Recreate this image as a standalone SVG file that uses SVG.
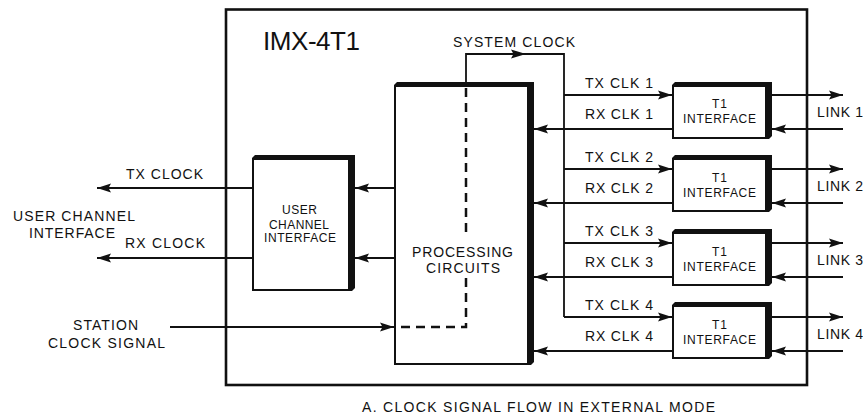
<svg xmlns="http://www.w3.org/2000/svg" width="863" height="416" viewBox="0 0 863 416">
<style>
text{font-family:"Liberation Sans",Arial,sans-serif;fill:#111}
.lbl{font-size:14px}
.sm{font-size:12px}
.ln{stroke:#111;stroke-width:1.8;fill:none}
.arr{marker-end:url(#ah)}
.dash{stroke:#111;stroke-width:2.5;fill:none;stroke-dasharray:9 6}
.bx{fill:#111}
.in{fill:#fff}
</style>
<defs>
<marker id="ah" markerUnits="userSpaceOnUse" markerWidth="15" markerHeight="10" refX="14" refY="5" orient="auto">
<path d="M0,0.5 L14,5 L0,9.5 L2.5,5 Z" fill="#111"/>
</marker>
</defs>
<rect width="863" height="416" fill="#fff"/>

<g id="frame">
<rect x="226" y="9.5" width="581" height="375.5" fill="none" stroke="#111" stroke-width="2.6"/>
<text x="263" y="50" font-size="26" textLength="97" lengthAdjust="spacing">IMX-4T1</text>
</g>

<g id="processing">
<path class="bx" d="M394,85 L397,82 L534,82 L534,362 L531,365 L394,365 Z"/>
<rect class="in" x="396" y="87" width="131" height="276"/>
<text class="lbl" x="412" y="257" textLength="101" lengthAdjust="spacing">PROCESSING</text>
<text class="lbl" x="426" y="273" textLength="74" lengthAdjust="spacing">CIRCUITS</text>
</g>

<g id="user-channel">
<path class="bx" d="M252,158 L255,155 L355,155 L355,288 L352,291 L252,291 Z"/>
<rect class="in" x="254" y="160" width="94" height="129"/>
<text class="sm" x="282" y="214" textLength="35" lengthAdjust="spacing">USER</text>
<text class="sm" x="269" y="229" textLength="60" lengthAdjust="spacing">CHANNEL</text>
<text class="sm" x="264" y="242" textLength="72" lengthAdjust="spacing">INTERFACE</text>
</g>

<g id="t1-1">
<path class="bx" d="M672,85 L675,82 L772,82 L772,136 L769,139 L672,139 Z"/>
<rect class="in" x="674" y="87" width="91" height="50"/>
<text class="sm" x="712" y="108" textLength="15" lengthAdjust="spacing">T1</text>
<text class="sm" x="683" y="123" textLength="73" lengthAdjust="spacing">INTERFACE</text>
</g>
<g id="t1-2">
<path class="bx" d="M672,158 L675,155 L772,155 L772,209 L769,212 L672,212 Z"/>
<rect class="in" x="674" y="160" width="91" height="50"/>
<text class="sm" x="712" y="182" textLength="15" lengthAdjust="spacing">T1</text>
<text class="sm" x="683" y="197" textLength="73" lengthAdjust="spacing">INTERFACE</text>
</g>
<g id="t1-3">
<path class="bx" d="M672,232 L675,229 L772,229 L772,283 L769,286 L672,286 Z"/>
<rect class="in" x="674" y="234" width="91" height="50"/>
<text class="sm" x="712" y="256" textLength="15" lengthAdjust="spacing">T1</text>
<text class="sm" x="683" y="271" textLength="73" lengthAdjust="spacing">INTERFACE</text>
</g>
<g id="t1-4">
<path class="bx" d="M672,305 L675,302 L772,302 L772,356 L769,359 L672,359 Z"/>
<rect class="in" x="674" y="307" width="91" height="50"/>
<text class="sm" x="712" y="329" textLength="15" lengthAdjust="spacing">T1</text>
<text class="sm" x="683" y="344" textLength="73" lengthAdjust="spacing">INTERFACE</text>
</g>

<g id="connectors">
<!-- system clock -->
<polyline class="ln" points="466,82 466,54 564,54 564,317"/>
<path d="M511,49.5 L526,54 L511,58.5 L513.5,54 Z" fill="#111"/>
<!-- dashed internal path -->
<path class="dash" d="M466,88 V236 M466,278 V327 H397"/>
<!-- station -->
<line class="ln arr" x1="170" y1="327" x2="394" y2="327"/>
<!-- TX CLK -->
<line class="ln arr" x1="564" y1="95" x2="672" y2="95"/>
<line class="ln arr" x1="564" y1="169" x2="672" y2="169"/>
<line class="ln arr" x1="564" y1="243" x2="672" y2="243"/>
<line class="ln arr" x1="564" y1="317" x2="672" y2="317"/>
<!-- RX CLK -->
<line class="ln arr" x1="672" y1="129" x2="534" y2="129"/>
<line class="ln arr" x1="672" y1="203" x2="534" y2="203"/>
<line class="ln arr" x1="672" y1="277" x2="534" y2="277"/>
<line class="ln arr" x1="672" y1="351" x2="534" y2="351"/>
<!-- links out -->
<line class="ln arr" x1="772" y1="95" x2="843" y2="95"/>
<line class="ln arr" x1="772" y1="169" x2="843" y2="169"/>
<line class="ln arr" x1="772" y1="243" x2="843" y2="243"/>
<line class="ln arr" x1="772" y1="317" x2="843" y2="317"/>
<!-- links in -->
<line class="ln arr" x1="843" y1="129" x2="772" y2="129"/>
<line class="ln arr" x1="843" y1="203" x2="772" y2="203"/>
<line class="ln arr" x1="843" y1="277" x2="772" y2="277"/>
<line class="ln arr" x1="843" y1="351" x2="772" y2="351"/>
<!-- processing to user channel -->
<line class="ln arr" x1="394" y1="188" x2="355" y2="188"/>
<line class="ln arr" x1="394" y1="258" x2="355" y2="258"/>
<!-- user channel outputs -->
<line class="ln arr" x1="252" y1="188" x2="97" y2="188"/>
<line class="ln arr" x1="252" y1="258" x2="97" y2="258"/>
</g>

<g id="labels">
<text class="lbl" x="453" y="47" textLength="122" lengthAdjust="spacing">SYSTEM CLOCK</text>
<text class="lbl" x="585" y="88" textLength="68" lengthAdjust="spacing">TX CLK 1</text>
<text class="lbl" x="585" y="119" textLength="68" lengthAdjust="spacing">RX CLK 1</text>
<text class="lbl" x="585" y="162" textLength="68" lengthAdjust="spacing">TX CLK 2</text>
<text class="lbl" x="585" y="193" textLength="68" lengthAdjust="spacing">RX CLK 2</text>
<text class="lbl" x="585" y="236" textLength="68" lengthAdjust="spacing">TX CLK 3</text>
<text class="lbl" x="585" y="267" textLength="68" lengthAdjust="spacing">RX CLK 3</text>
<text class="lbl" x="585" y="310" textLength="68" lengthAdjust="spacing">TX CLK 4</text>
<text class="lbl" x="585" y="341" textLength="68" lengthAdjust="spacing">RX CLK 4</text>
<text class="lbl" x="817" y="117" textLength="46" lengthAdjust="spacing">LINK 1</text>
<text class="lbl" x="817" y="191" textLength="46" lengthAdjust="spacing">LINK 2</text>
<text class="lbl" x="817" y="265" textLength="46" lengthAdjust="spacing">LINK 3</text>
<text class="lbl" x="817" y="339" textLength="46" lengthAdjust="spacing">LINK 4</text>
<text class="lbl" x="126" y="179" textLength="77" lengthAdjust="spacing">TX CLOCK</text>
<text class="lbl" x="125" y="248" textLength="80" lengthAdjust="spacing">RX CLOCK</text>
<text class="lbl" x="13" y="221" textLength="122" lengthAdjust="spacing">USER CHANNEL</text>
<text class="lbl" x="29" y="238" textLength="86" lengthAdjust="spacing">INTERFACE</text>
<text class="lbl" x="73" y="330" textLength="65" lengthAdjust="spacing">STATION</text>
<text class="lbl" x="48" y="348" textLength="117" lengthAdjust="spacing">CLOCK SIGNAL</text>
<text class="lbl" x="362" y="412" textLength="353" lengthAdjust="spacing">A. CLOCK SIGNAL FLOW IN EXTERNAL MODE</text>
</g>
</svg>
